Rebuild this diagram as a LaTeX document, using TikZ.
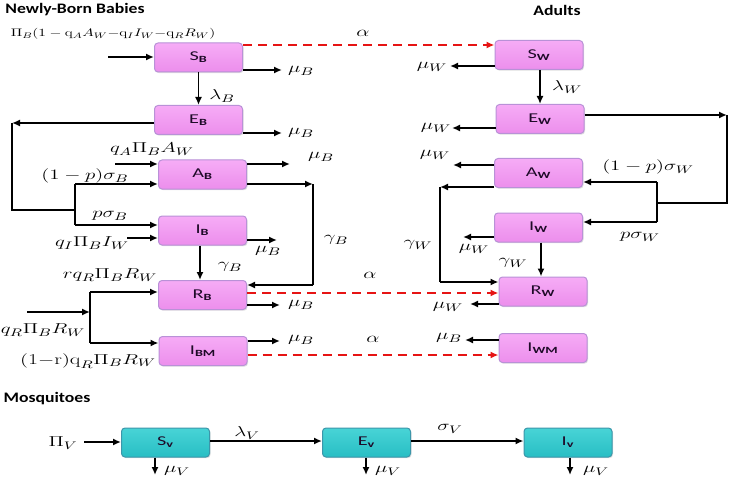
\documentclass[tikz,border=0pt]{standalone}
\usepackage{fontspec}
\newfontfamily\boxfont{Carlito}
\usetikzlibrary{arrows.meta,shadows}
\definecolor{pinktop}{RGB}{246,172,246}
\definecolor{pinkbot}{RGB}{236,142,236}
\definecolor{pinkedge}{RGB}{185,145,215}
\definecolor{cyantop}{RGB}{72,212,214}
\definecolor{cyanbot}{RGB}{40,190,196}
\definecolor{cyanedge}{RGB}{60,150,170}
\definecolor{dashred}{RGB}{230,20,20}
\definecolor{boxtext}{RGB}{30,10,40}
\newcommand\mx[1]{\scalebox{1.45}[1]{$#1$}}
\newcommand\bt[2]{\scalebox{1.5}[1]{\boxfont #1\textsubscript{\bfseries #2}}}
\begin{document}
\begin{tikzpicture}[x=1pt,y=-1pt,
 box/.style={draw=pinkedge,line width=1pt,rounded corners=3.5pt,top color=pinktop,bottom color=pinkbot,
   minimum width=88pt,minimum height=29pt,inner sep=0pt,text=boxtext,font=\fontsize{13.5}{15}\selectfont,
   drop shadow={opacity=0.25,shadow xshift=1pt,shadow yshift=-1.2pt}},
 vbox/.style={box,draw=cyanedge,top color=cyantop,bottom color=cyanbot},
 lab/.style={inner sep=0pt,font=\fontsize{15}{17}\selectfont},
 arr/.style={line width=1.8pt,-{Latex[length=8pt,width=7pt]}},
 ln/.style={line width=1.8pt},
 redarr/.style={draw=dashred,line width=1.6pt,dash pattern=on 9pt off 6pt,-{Latex[length=8pt,width=7pt]}},
 ttl/.style={inner sep=0pt,font=\boxfont\bfseries\fontsize{14.5}{16}\selectfont}]
\useasboundingbox (0,0) rectangle (730,481);

% titles
\node[ttl] (tB) at (75,10) {\scalebox{1.22}[1]{Newly-Born Babies}};
\node[ttl] (tW) at (557,10) {\scalebox{1.22}[1]{Adults}};
\node[ttl] (tV) at (47,399) {\scalebox{1.22}[1]{Mosquitoes}};

% boxes
\node[box] (SB) at (198.5,57.5) {\bt{S}{B}};
\node[box] (EB) at (198.5,120) {\bt{E}{B}};
\node[box] (AB) at (202.5,174.5) {\bt{A}{B}};
\node[box] (IB) at (202.5,230.5) {\bt{I}{B}};
\node[box] (RB) at (202.5,295) {\bt{R}{B}};
\node[box] (IBM) at (203,351) {\bt{I}{BM}};
\node[box] (SW) at (539,55) {\bt{S}{W}};
\node[box] (EW) at (540,119) {\bt{E}{W}};
\node[box] (AW) at (538.5,173) {\bt{A}{W}};
\node[box] (IW) at (538.5,227.5) {\bt{I}{W}};
\node[box] (RW) at (543,291.5) {\bt{R}{W}};
\node[box] (IWM) at (543,348) {\bt{I}{WM}};
\node[vbox] (SV) at (165.5,442.5) {\bt{S}{v}};
\node[vbox] (EV) at (366.5,442.5) {\bt{E}{v}};
\node[vbox] (IV) at (568,442.5) {\bt{I}{v}};

% labels (left)
\node[lab,font=\fontsize{11}{13}\selectfont] (lPiB) at (113,34)
  {\scalebox{1.4}[1]{$\Pi_B(1-\mathrm{q}_A A_W{-}\mathrm{q}_I I_W{-}\mathrm{q}_R R_W)$}};
\node[lab] (lal1) at (363,33) {\mx{\alpha}};
\node[lab] (lmuB1) at (301,71) {\mx{\mu_B}};
\node[lab] (llB) at (222,96) {\mx{\lambda_B}};
\node[lab] (lmuB2) at (301,133) {\mx{\mu_B}};
\node[lab] (lpsB1) at (85,176) {\mx{(1-p)\sigma_B}};
\node[lab] (lpsB2) at (110,216) {\mx{p\sigma_B}};
\node[lab] (lqA) at (152,149) {\mx{q_A\Pi_B A_W}};
\node[lab] (lmuB3) at (321,157) {\mx{\mu_B}};
\node[lab] (lgB1) at (336,240) {\mx{\gamma_B}};
\node[lab] (lqI) at (92,243) {\mx{q_I\Pi_B I_W}};
\node[lab] (lmuB4) at (268,251) {\mx{\mu_B}};
\node[lab] (lgB2) at (230,267) {\mx{\gamma_B}};
\node[lab] (lrq) at (110,275) {\mx{r q_R\Pi_B R_W}};
\node[lab] (lqR) at (43,330) {\mx{q_R\Pi_B R_W}};
\node[lab] (l1r) at (88,361) {\mx{\mathrm{(1{-}r)q}_R\Pi_B R_W}};
\node[lab] (lmuB5) at (301,305) {\mx{\mu_B}};
\node[lab] (lal2) at (370,275) {\mx{\alpha}};
\node[lab] (lmuB6) at (301,340) {\mx{\mu_B}};
\node[lab] (lal3) at (373,339) {\mx{\alpha}};
% labels (right)
\node[lab] (lmuW1) at (432,67) {\mx{\mu_W}};
\node[lab] (llW) at (567,87) {\mx{\lambda_W}};
\node[lab] (lmuW2) at (436,128) {\mx{\mu_W}};
\node[lab] (lpsW1) at (648,167) {\mx{(1-p)\sigma_W}};
\node[lab] (lpsW2) at (640,237) {\mx{p\sigma_W}};
\node[lab] (lmuW3) at (435,155) {\mx{\mu_W}};
\node[lab] (lgW1) at (418,245) {\mx{\gamma_W}};
\node[lab] (lmuW4) at (474,249) {\mx{\mu_W}};
\node[lab] (lgW2) at (513,263) {\mx{\gamma_W}};
\node[lab] (lmuW5) at (448,307) {\mx{\mu_W}};
\node[lab] (lmuB7) at (449,338) {\mx{\mu_B}};
% labels (mosquitoes)
\node[lab] (lPiV) at (63,443) {\mx{\Pi_V}};
\node[lab] (llV) at (247,433) {\mx{\lambda_V}};
\node[lab] (lsV) at (450,429) {\mx{\sigma_V}};
\node[lab] (lmuV1) at (177,471) {\mx{\mu_V}};
\node[lab] (lmuV2) at (388,471) {\mx{\mu_V}};
\node[lab] (lmuV3) at (596,471) {\mx{\mu_V}};

% coordinates
\coordinate (inSB) at (108,57);
\coordinate (oSB) at (282,70);
\coordinate (oEB) at (282,133);
\coordinate (cE) at (12,123);
\coordinate (cE2) at (12,210);
\coordinate (jB) at (75,210);
\coordinate (jA) at (75,184);
\coordinate (jI) at (75,225);
\coordinate (inAB) at (115,164);
\coordinate (oAB) at (290,164);
\coordinate (cA) at (313,184);
\coordinate (cA2) at (313,285);
\coordinate (inIB) at (127,238);
\coordinate (oIB) at (277,240);
\coordinate (inR) at (27,312);
\coordinate (jR0) at (90,312);
\coordinate (jR) at (90,292);
\coordinate (jM) at (90,343);
\coordinate (oRB) at (280,305);
\coordinate (oIBM) at (280,341);
\coordinate (oSW) at (450,66);
\coordinate (oEW) at (452,128);
\coordinate (cEW) at (727,115);
\coordinate (cEW2) at (727,203);
\coordinate (jW) at (657,203);
\coordinate (jAW) at (657,182);
\coordinate (jIW) at (657,222);
\coordinate (oAW) at (453,165);
\coordinate (cAW) at (440,187);
\coordinate (cAW2) at (440,282);
\coordinate (oIW) at (463,237);
\coordinate (xIW) at (541,0);
\coordinate (oRW) at (470,304);
\coordinate (oIWM) at (465,340);
\coordinate (inSV) at (84,442);
\coordinate (oSV) at (155,475);
\coordinate (oEV) at (366,475);
\coordinate (oIV) at (570,475);

% babies
\draw[arr] (inSB) -- (SB.west |- inSB);
\draw[redarr] (SB.east |- 0,45) -- (SW.west |- 0,45);
\draw[arr] (SB.east |- oSB) -- (oSB);
\draw[arr] (SB.south) -- (SB.south |- EB.north);
\draw[arr] (EB.east |- oEB) -- (oEB);
\draw[arr] (EB.west |- cE) -- (cE);
\draw[ln] (cE) -- (cE2) -- (jB);
\draw[ln] (jA) -- (jI);
\draw[arr] (jA) -- (AB.west |- jA);
\draw[arr] (jI) -- (IB.west |- jI);
\draw[arr] (inAB) -- (AB.west |- inAB);
\draw[arr] (AB.east |- oAB) -- (oAB);
\draw[arr] (AB.east |- cA) -- (cA);
\draw[ln] (cA) -- (cA2);
\draw[arr] (cA2) -- (RB.east |- cA2);
\draw[arr] (inIB) -- (IB.west |- inIB);
\draw[arr] (IB.east |- oIB) -- (oIB);
\draw[arr] (IB.south -| 200,0) -- (RB.north -| 200,0);
\draw[arr] (inR) -- (jR0);
\draw[ln] (jR) -- (jM);
\draw[arr] (jR) -- (RB.west |- jR);
\draw[arr] (jM) -- (IBM.west |- jM);
\draw[arr] (RB.east |- oRB) -- (oRB);
\draw[redarr] (RB.east |- 0,293) -- (RW.west |- 0,293);
\draw[arr] (IBM.east |- oIBM) -- (oIBM);
\draw[redarr] (IBM.east |- 0,355) -- (IWM.west |- 0,355);

% adults
\draw[arr] (SW.west |- oSW) -- (oSW);
\draw[arr] (SW.south -| 540,0) -- (EW.north -| 540,0);
\draw[arr] (EW.west |- oEW) -- (oEW);
\draw[arr] (EW.east |- cEW) -- (cEW);
\draw[ln] (cEW) -- (cEW2) -- (jW);
\draw[ln] (jAW) -- (jIW);
\draw[arr] (jAW) -- (AW.east |- jAW);
\draw[arr] (jIW) -- (IW.east |- jIW);
\draw[arr] (AW.west |- oAW) -- (oAW);
\draw[arr] (AW.west |- cAW) -- (cAW);
\draw[ln] (cAW) -- (cAW2);
\draw[arr] (cAW2) -- (RW.west |- cAW2);
\draw[arr] (IW.west |- oIW) -- (oIW);
\draw[arr] (IW.south -| xIW) -- (RW.north -| xIW);
\draw[arr] (RW.west |- oRW) -- (oRW);
\draw[arr] (IWM.west |- oIWM) -- (oIWM);

% mosquitoes
\draw[arr] (inSV) -- (SV.west |- inSV);
\draw[arr] (SV.east |- 0,441) -- (EV.west |- 0,441);
\draw[arr] (EV.east |- 0,441) -- (IV.west |- 0,441);
\draw[arr] (SV.south -| oSV) -- (oSV);
\draw[arr] (EV.south -| oEV) -- (oEV);
\draw[arr] (IV.south -| oIV) -- (oIV);
\end{tikzpicture}
\end{document}
